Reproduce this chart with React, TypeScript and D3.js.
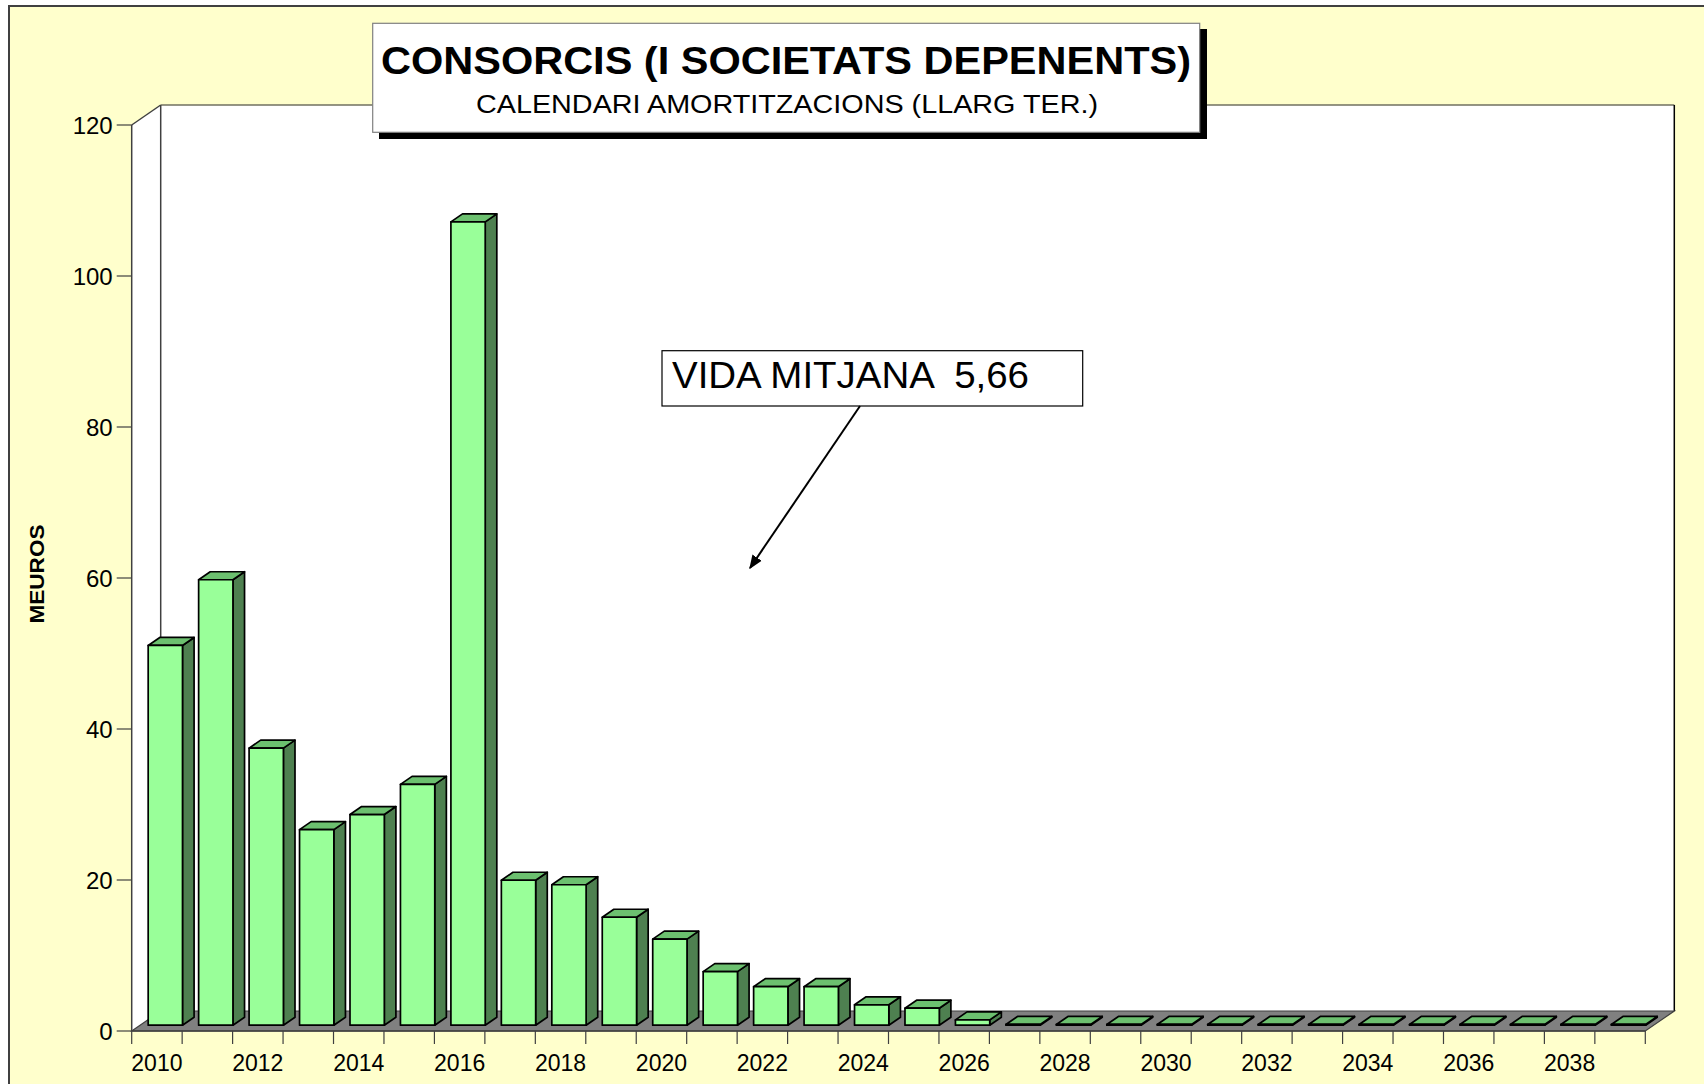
import React from 'react';
import * as d3 from 'd3';

// categories (years) and long-term amortisation values (MEUROS)
const years = [
  '2010', '2011', '2012', '2013', '2014', '2015', '2016', '2017', '2018', '2019',
  '2020', '2021', '2022', '2023', '2024', '2025', '2026', '2027', '2028', '2029',
  '2030', '2031', '2032', '2033', '2034', '2035', '2036', '2037', '2038', '2039',
];
const amounts = [
  50.3, 59.0, 36.7, 25.9, 27.9, 31.9, 106.4, 19.2, 18.6, 14.3,
  11.4, 7.1, 5.1, 5.1, 2.7, 2.25, 0.7, 0.1, 0.1, 0.1,
  0.1, 0.1, 0.1, 0.1, 0.1, 0.1, 0.1, 0.1, 0.1, 0.1,
];
const yTicks = [0, 20, 40, 60, 80, 100, 120];
const xLabels = ['2010', '2012', '2014', '2016', '2018', '2020', '2022', '2024', '2026', '2028', '2030', '2032', '2034', '2036', '2038'];

const title = 'CONSORCIS (I SOCIETATS DEPENENTS)';
const subtitle = 'CALENDARI AMORTITZACIONS (LLARG TER.)';
const yTitle = 'MEUROS';
const note = 'VIDA MITJANA  5,66';

const FONT = "'Liberation Sans', Arial, sans-serif";

const App = () => {
  // front plane of the plot
  const left = 131.7;
  const right = 1645.3;
  const bottom = 1031;
  const top = 125;
  // 3D depth offset of back wall
  const DX = 29;
  const DY = 20;
  const f0 = 0.29; // bar front depth fraction
  const f1 = 0.69; // bar back depth fraction

  const x = d3.scaleBand<string>().domain(years).range([left, right]).padding(0);
  const y = d3.scaleLinear().domain([0, 120]).range([bottom, top]);

  const bw = x.bandwidth();
  const barW = bw * 0.68;
  const ddx = DX * (f1 - f0);
  const ddy = DY * (f1 - f0);

  const pts = (arr: number[][]) => arr.map(p => p.join(',')).join(' ');

  return (
    <svg
      width={1704}
      height={1084}
      style={{ position: 'absolute', left: 0, top: 0, display: 'block' }}
      fontFamily={FONT}
    >
      {/* chart area */}
      <rect x={0} y={0} width={1704} height={1084} fill="#ffffff" />
      <rect x={9} y={6} width={1720} height={1100} fill="#ffffcc" stroke="#404040" strokeWidth={2} />

      {/* back wall */}
      <rect x={left + DX} y={top - DY} width={right - left} height={bottom - top} fill="#ffffff" />
      <line x1={left + DX} y1={top - DY} x2={right + DX} y2={top - DY} stroke="#707060" strokeWidth={1.5} />
      <line x1={right + DX} y1={top - DY} x2={right + DX} y2={bottom - DY} stroke="#000" strokeWidth={1.5} />

      {/* left wall */}
      <polygon
        points={pts([[left, bottom], [left, top], [left + DX, top - DY], [left + DX, bottom - DY]])}
        fill="#ffffff"
        stroke="none"
      />
      <line x1={left + DX} y1={top - DY} x2={left + DX} y2={bottom - DY} stroke="#404040" strokeWidth={1.5} />
      <line x1={left} y1={top} x2={left + DX} y2={top - DY} stroke="#404040" strokeWidth={1.5} />

      {/* floor */}
      <polygon
        points={pts([[left, bottom], [left + DX, bottom - DY], [right + DX, bottom - DY], [right, bottom]])}
        fill="#808080"
        stroke="#404040"
        strokeWidth={1.2}
      />

      {/* bars */}
      {years.map((yr, i) => {
        const v = amounts[i];
        const x0 = (x(yr) as number) + (bw - barW) / 2 + DX * f0;
        const x1 = x0 + barW;
        const yb = y(0) - DY * f0;
        const yt = y(v) - DY * f0;
        return (
          <g key={yr} stroke="#000" strokeWidth={1.7} strokeLinejoin="round">
            <polygon points={pts([[x1, yt], [x1 + ddx, yt - ddy], [x1 + ddx, yb - ddy], [x1, yb]])} fill="#4e8050" />
            <polygon points={pts([[x0, yt], [x0 + ddx, yt - ddy], [x1 + ddx, yt - ddy], [x1, yt]])} fill="#6cc06f" />
            <rect x={x0} y={yt} width={barW} height={yb - yt} fill="#99ff99" />
          </g>
        );
      })}

      {/* y axis */}
      <line x1={left} y1={top} x2={left} y2={bottom} stroke="#404040" strokeWidth={1.5} />
      {yTicks.map(t => (
        <g key={t}>
          <line x1={left - 15} y1={y(t)} x2={left} y2={y(t)} stroke="#404040" strokeWidth={1.2} />
          <text x={left - 19} y={y(t)} dy="0.36em" textAnchor="end" fontSize={24} fill="#000">
            {t}
          </text>
        </g>
      ))}

      {/* x axis */}
      <line x1={left} y1={bottom} x2={right} y2={bottom} stroke="#404040" strokeWidth={1.5} />
      {[...years.map(yr => x(yr) as number), right].map((px, i) => (
        <line key={i} x1={px} y1={bottom} x2={px} y2={bottom + 13} stroke="#404040" strokeWidth={1.2} />
      ))}
      {xLabels.map(lbl => (
        <text key={lbl} x={(x(lbl) as number) + bw / 2} y={1070.5} textAnchor="middle" fontSize={23} fill="#000">
          {lbl}
        </text>
      ))}

      {/* y axis title */}
      <text
        transform="translate(44,574) rotate(-90)"
        textAnchor="middle"
        fontSize={21}
        fontWeight="bold"
        fill="#000"
        textLength={99}
        lengthAdjust="spacingAndGlyphs"
      >
        {yTitle}
      </text>

      {/* title box */}
      <rect x={379} y={29} width={828} height={110} fill="#000" />
      <rect x={372.7} y={23.3} width={827} height={109} fill="#ffffff" stroke="#808080" strokeWidth={1.2} />
      <text x={786} y={74} textAnchor="middle" fontSize={39} fontWeight="bold" fill="#000" textLength={810} lengthAdjust="spacingAndGlyphs">
        {title}
      </text>
      <text x={787} y={113} textAnchor="middle" fontSize={25} fill="#000" textLength={622} lengthAdjust="spacingAndGlyphs">
        {subtitle}
      </text>

      {/* annotation */}
      <rect x={662} y={350.7} width={420.7} height={55.3} fill="#ffffff" stroke="#000" strokeWidth={1.2} />
      <text x={672} y={387.5} fontSize={37} fill="#000" textLength={357} lengthAdjust="spacingAndGlyphs" style={{ whiteSpace: 'pre' }}>
        {note}
      </text>
      <defs>
        <marker id="arr" viewBox="0 0 10 10" refX={9} refY={5} markerWidth={7} markerHeight={7} orient="auto">
          <path d="M0,1 L10,5 L0,9 z" fill="#000" />
        </marker>
      </defs>
      <line x1={860} y1={406} x2={750} y2={568} stroke="#000" strokeWidth={2} markerEnd="url(#arr)" />
    </svg>
  );
};

export default App;
